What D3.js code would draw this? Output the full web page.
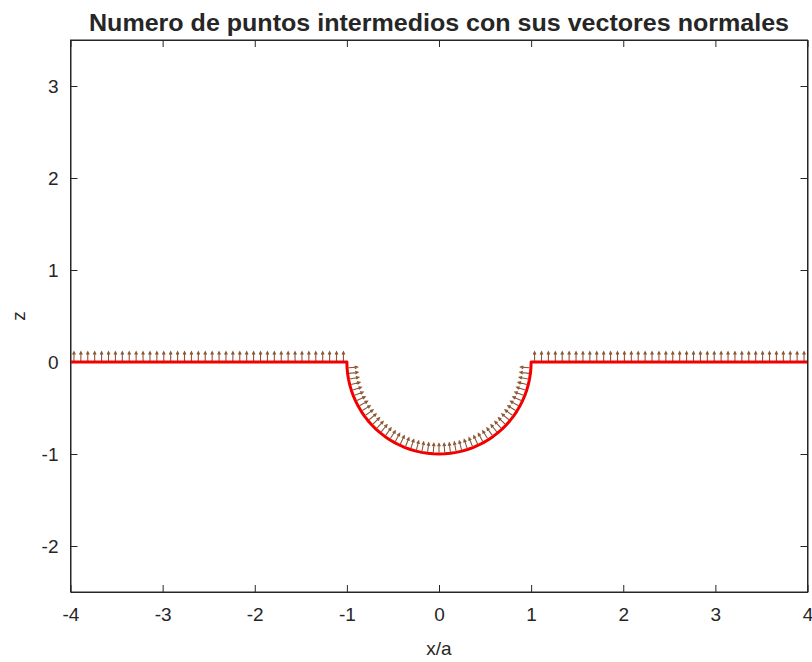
<!DOCTYPE html>
<html>
<head>
<meta charset="utf-8">
<script src="https://cdn.jsdelivr.net/npm/d3@7"></script>
<style>
  body { margin: 0; background: #fff; }
  svg { display: block; }
  text { font-family: "Liberation Sans", Arial, Helvetica, sans-serif; fill: #262626; }
</style>
</head>
<body>
<svg id="chart" width="812" height="662"></svg>
<script>
// ---- data ----
const title = "Numero de puntos intermedios con sus vectores normales";
const xLabel = "x/a";
const yLabel = "z";
const xDomain = [-4, 4];
const yDomain = [-2.5, 3.5];
const xTicks = [-4, -3, -2, -1, 0, 1, 2, 3, 4];
const yTicks = [-2, -1, 0, 1, 2, 3];

// surface profile (flat parts) : x values and z values
const leftFlatX = [-4, -1];
const rightFlatX = [1, 4];
const flatZ = 0;
const arcRadius = 1;

// intermediate points on flat parts (x/a)
const leftPointsX = [-3.9625, -3.8875, -3.8125, -3.7375, -3.6625, -3.5875, -3.5125, -3.4375, -3.3625, -3.2875,
  -3.2125, -3.1375, -3.0625, -2.9875, -2.9125, -2.8375, -2.7625, -2.6875, -2.6125, -2.5375,
  -2.4625, -2.3875, -2.3125, -2.2375, -2.1625, -2.0875, -2.0125, -1.9375, -1.8625, -1.7875,
  -1.7125, -1.6375, -1.5625, -1.4875, -1.4125, -1.3375, -1.2625, -1.1875, -1.1125, -1.0375];
const rightPointsX = [1.0375, 1.1125, 1.1875, 1.2625, 1.3375, 1.4125, 1.4875, 1.5625, 1.6375, 1.7125,
  1.7875, 1.8625, 1.9375, 2.0125, 2.0875, 2.1625, 2.2375, 2.3125, 2.3875, 2.4625,
  2.5375, 2.6125, 2.6875, 2.7625, 2.8375, 2.9125, 2.9875, 3.0625, 3.1375, 3.2125,
  3.2875, 3.3625, 3.4375, 3.5125, 3.5875, 3.6625, 3.7375, 3.8125, 3.8875, 3.9625];
// intermediate points on the semicircle (angle in degrees)
const arcAnglesDeg = [183.6, 187.2, 190.8, 194.4, 198, 201.6, 205.2, 208.8, 212.4, 216,
  219.6, 223.2, 226.8, 230.4, 234, 237.6, 241.2, 244.8, 248.4, 252,
  255.6, 259.2, 262.8, 266.4, 270, 273.6, 277.2, 280.8, 284.4, 288,
  291.6, 295.2, 298.8, 302.4, 306, 309.6, 313.2, 316.8, 320.4, 324,
  327.6, 331.2, 334.8, 338.4, 342, 345.6, 349.2, 352.8, 356.4];
const normalLength = 0.1;

// ---- layout ----
const svg = d3.select("#chart");
const L = 70.5, R = 807.5, T = 40, B = 592;
const x = d3.scaleLinear().domain(xDomain).range([L, R]);
const y = d3.scaleLinear().domain(yDomain).range([B, T]);
const axisColor = "#262626";
const tickLen = 7;

function styleAxis(g) {
  g.selectAll(".domain").attr("stroke", axisColor);
  g.selectAll(".tick line").attr("stroke", axisColor);
  g.selectAll(".tick text").attr("fill", axisColor).style("font-size", "19px")
    .style("font-family", "'Liberation Sans', Arial, sans-serif");
}
const xAxisB = svg.append("g").attr("transform", `translate(0,${B})`)
  .call(d3.axisBottom(x).tickValues(xTicks).tickSizeInner(-tickLen).tickSizeOuter(0).tickPadding(16).tickFormat(d3.format("d")));
styleAxis(xAxisB);
const xAxisT = svg.append("g").attr("transform", `translate(0,${T})`)
  .call(d3.axisTop(x).tickValues(xTicks).tickSizeInner(-tickLen).tickSizeOuter(0).tickFormat(""));
styleAxis(xAxisT);
const yAxisL = svg.append("g").attr("transform", `translate(${L},0)`)
  .call(d3.axisLeft(y).tickValues(yTicks).tickSizeInner(-tickLen).tickSizeOuter(0).tickPadding(12).tickFormat(d3.format("d")));
styleAxis(yAxisL);
const yAxisR = svg.append("g").attr("transform", `translate(${R},0)`)
  .call(d3.axisRight(y).tickValues(yTicks).tickSizeInner(-tickLen).tickSizeOuter(0).tickFormat(""));
styleAxis(yAxisR);
svg.selectAll(".tick text").text(function() { return d3.select(this).text().replace("\u2212", "-"); });

// normals (quiver-like)
const arrowColor = "#8a5634";
const normals = [];
leftPointsX.concat(rightPointsX).forEach(px => {
  normals.push({ x0: px, z0: flatZ + 0.012, dx: 0, dz: normalLength });
});
arcAnglesDeg.forEach(a => {
  const t = a * Math.PI / 180;
  const r0 = arcRadius - 0.015;
  normals.push({ x0: r0 * Math.cos(t), z0: r0 * Math.sin(t), dx: -normalLength * Math.cos(t), dz: -normalLength * Math.sin(t) });
});
const gN = svg.append("g").attr("stroke", arrowColor).attr("stroke-width", 1.1).attr("fill", "none");
normals.forEach(n => {
  const X0 = x(n.x0), Y0 = y(n.z0), X1 = x(n.x0 + n.dx), Y1 = y(n.z0 + n.dz);
  const ang = Math.atan2(Y1 - Y0, X1 - X0);
  const hl = 3.2, ha = 0.45;
  const h1x = X1 - hl * Math.cos(ang - ha), h1y = Y1 - hl * Math.sin(ang - ha);
  const h2x = X1 - hl * Math.cos(ang + ha), h2y = Y1 - hl * Math.sin(ang + ha);
  gN.append("path").attr("d", `M${X0},${Y0}L${X1},${Y1}M${h1x},${h1y}L${X1},${Y1}L${h2x},${h2y}`);
});

// surface profile
const profile = [[leftFlatX[0], flatZ], [leftFlatX[1], flatZ]];
[180].concat(arcAnglesDeg, [360]).forEach(a => {
  const t = a * Math.PI / 180;
  profile.push([arcRadius * Math.cos(t), arcRadius * Math.sin(t)]);
});
profile.push([rightFlatX[0], flatZ], [rightFlatX[1], flatZ]);
svg.append("path").datum(profile)
  .attr("d", d3.line().x(d => x(d[0])).y(d => y(d[1])))
  .attr("fill", "none").attr("stroke", "#f20000").attr("stroke-width", 3).attr("stroke-linejoin", "round");

// box on top
svg.append("rect").attr("x", L).attr("y", T).attr("width", R - L).attr("height", B - T)
  .attr("fill", "none").attr("stroke", axisColor).attr("stroke-width", 1);

// labels
svg.append("text").attr("x", (L + R) / 2).attr("y", 31).attr("text-anchor", "middle")
  .style("font-size", "23px").style("font-weight", "bold").attr("fill", "#000")
  .attr("textLength", 700).attr("lengthAdjust", "spacingAndGlyphs").text(title);
svg.append("text").attr("x", (L + R) / 2).attr("y", 655).attr("text-anchor", "middle")
  .style("font-size", "19px").text(xLabel);
svg.append("text").attr("transform", `translate(25,${(T + B) / 2}) rotate(-90)`).attr("text-anchor", "middle")
  .style("font-size", "19px").text(yLabel);
</script>
</body>
</html>
